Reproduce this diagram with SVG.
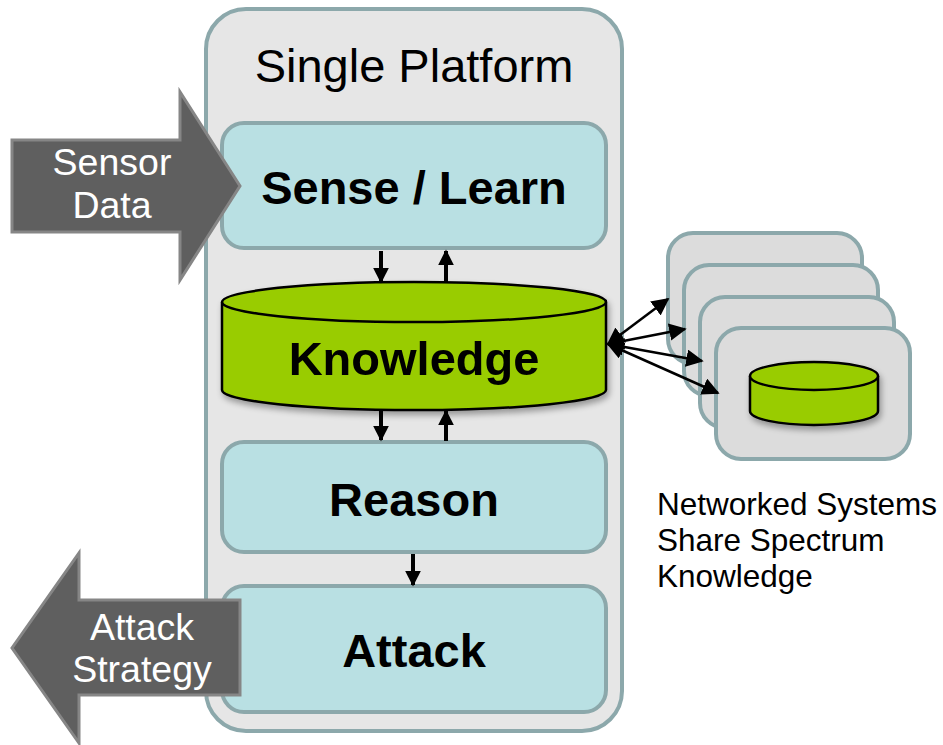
<svg xmlns="http://www.w3.org/2000/svg" width="943" height="745" viewBox="0 0 943 745">
  <style>
    .frame { fill: #E6E6E6; stroke: #8CA8AB; stroke-width: 4; }
    .stage { fill: #B9E0E3; stroke: #8CA8AB; stroke-width: 4; }
    .card { fill: #DCDCDC; stroke: #8CA8AB; stroke-width: 4; }
    .db { fill: #99CC00; stroke: #000; stroke-width: 2.5; }
    .fat { fill: #5F5F5F; stroke: #868686; stroke-width: 3; stroke-linejoin: miter; }
    .big { font-family: "Liberation Sans", Arial, sans-serif; font-size: 47px; fill: #000; text-anchor: middle; }
    .bold { font-weight: bold; }
    .white { font-family: "Liberation Sans", Arial, sans-serif; font-size: 37.5px; fill: #fff; text-anchor: middle; }
    .note { font-family: "Liberation Sans", Arial, sans-serif; font-size: 31.5px; fill: #000; }
    .link { stroke: #000; stroke-width: 4; fill: none; }
    .thin { stroke: #000; stroke-width: 2.5; fill: none; }
  </style>
  <defs>
    <marker id="head" viewBox="0 0 10 10" refX="9" refY="5" markerWidth="4" markerHeight="4" orient="auto">
      <path d="M0,0 L10,5 L0,10 z" fill="#000"/>
    </marker>
    <marker id="headThin" viewBox="0 0 10 10" refX="9" refY="5" markerWidth="7" markerHeight="7" orient="auto-start-reverse">
      <path d="M0,0 L10,5 L0,10 z" fill="#000"/>
    </marker>
    <filter id="shadow" x="-10%" y="-10%" width="120%" height="130%">
      <feGaussianBlur in="SourceAlpha" stdDeviation="3"/>
      <feOffset dx="2" dy="4" result="b"/>
      <feComponentTransfer><feFuncA type="linear" slope="0.35"/></feComponentTransfer>
      <feMerge><feMergeNode/><feMergeNode in="SourceGraphic"/></feMerge>
    </filter>
  </defs>

  <g id="platform">
    <rect class="frame" x="206" y="9" width="416" height="722" rx="40"/>
    <text class="big" x="414" y="82">Single Platform</text>
  </g>

  <g id="sense-learn">
    <rect class="stage" x="222" y="123" width="384" height="125" rx="22"/>
    <text class="big bold" x="414" y="204">Sense / Learn</text>
  </g>

  <g id="knowledge" filter="url(#shadow)">
    <path class="db" d="M222,302 L222,390 A192,20 0 0 0 606,390 L606,302"/>
    <ellipse class="db" cx="414" cy="302" rx="192" ry="20"/>
    <text class="big bold" x="414" y="375">Knowledge</text>
  </g>

  <g id="reason">
    <rect class="stage" x="222" y="442" width="384" height="110" rx="22"/>
    <text class="big bold" x="414" y="516">Reason</text>
  </g>

  <g id="attack">
    <rect class="stage" x="222" y="586" width="384" height="126" rx="22"/>
    <text class="big bold" x="414" y="667">Attack</text>
  </g>

  <g id="sensor-data">
    <path class="fat" d="M12,140 L180,140 L180,92 L240,186 L180,280 L180,232 L12,232 Z"/>
    <text class="white" x="112" y="175">Sensor</text>
    <text class="white" x="112" y="218">Data</text>
  </g>

  <g id="attack-strategy">
    <path class="fat" d="M240,600 L79,600 L79,553 L12,648 L79,743 L79,695 L240,695 Z"/>
    <text class="white" x="142" y="640">Attack</text>
    <text class="white" x="142" y="682">Strategy</text>
  </g>

  <g id="networked-systems">
    <rect class="card" x="668" y="233" width="194" height="131" rx="25"/>
    <rect class="card" x="684" y="265" width="194" height="131" rx="25"/>
    <rect class="card" x="700" y="297" width="194" height="131" rx="25"/>
    <rect class="card" x="716" y="328" width="194" height="131" rx="25"/>
    <g filter="url(#shadow)">
      <path class="db" d="M750,376 L750,411 A64,14 0 0 0 878,411 L878,376"/>
      <ellipse class="db" cx="814" cy="376" rx="64" ry="14"/>
    </g>
    <text class="note" x="657" y="515">Networked Systems</text>
    <text class="note" x="657" y="551">Share Spectrum</text>
    <text class="note" x="657" y="587">Knowledge</text>
  </g>

  <g id="connectors">
    <line class="link" x1="381" y1="251" x2="381" y2="282" marker-end="url(#head)"/>
    <line class="link" x1="446" y1="282" x2="446" y2="251" marker-end="url(#head)"/>
    <line class="link" x1="381" y1="410" x2="381" y2="440" marker-end="url(#head)"/>
    <line class="link" x1="446" y1="441" x2="446" y2="411" marker-end="url(#head)"/>
    <line class="link" x1="413" y1="554" x2="413" y2="585" marker-end="url(#head)"/>
    <line class="thin" x1="608" y1="344" x2="668" y2="299" marker-start="url(#headThin)" marker-end="url(#headThin)"/>
    <line class="thin" x1="608" y1="344" x2="685" y2="329" marker-start="url(#headThin)" marker-end="url(#headThin)"/>
    <line class="thin" x1="608" y1="344" x2="702" y2="361" marker-start="url(#headThin)" marker-end="url(#headThin)"/>
    <line class="thin" x1="608" y1="344" x2="718" y2="393" marker-start="url(#headThin)" marker-end="url(#headThin)"/>
  </g>
</svg>
